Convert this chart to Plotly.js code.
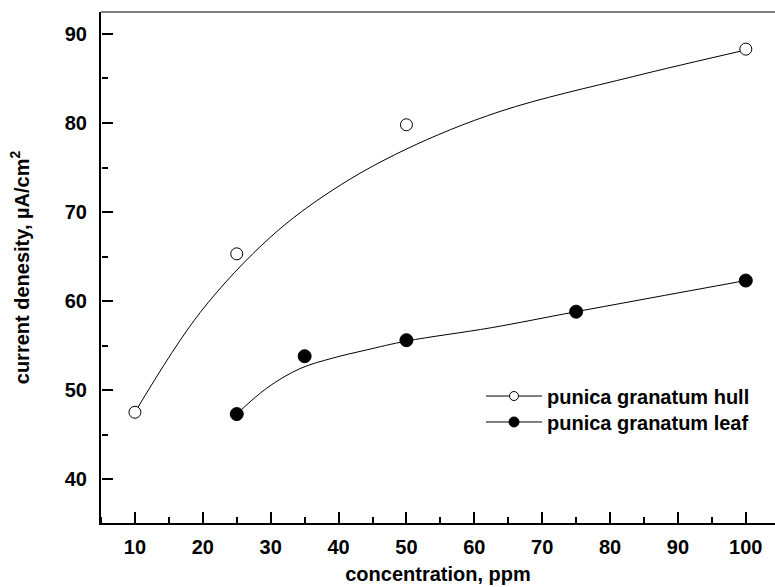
<!DOCTYPE html>
<html>
<head>
<meta charset="utf-8">
<script src="https://cdn.plot.ly/plotly-3.0.1.min.js"></script>
<style>
html,body{margin:0;padding:0;background:#fff;overflow:hidden;}
#chart{width:775px;height:587px;}
</style>
</head>
<body>
<div id="chart"></div>
<script>
// measured data points
const hullX = [10, 25, 50, 100];
const hullY = [47.5, 65.3, 79.8, 88.3];
const leafX = [25, 35, 50, 75, 100];
const leafY = [47.3, 53.8, 55.6, 58.8, 62.3];

// fitted curves
const hullFitX = [10, 19.6, 30, 39.2, 49.8, 63.8, 83.3, 100];
const hullFitY = [47.5, 58.7, 67.2, 72.5, 77.0, 81.3, 85.2, 88.2];
const leafFitX = [25, 29.4, 34.3, 39.2, 44.1, 50, 62.5, 75, 100];
const leafFitY = [47.3, 50.2, 52.4, 53.6, 54.5, 55.5, 57.0, 58.8, 62.3];

const seriesNames = ['punica granatum hull', 'punica granatum leaf'];
const xTitle = 'concentration, ppm';
const yTitle = 'current denesity, µA/cm<sup>2</sup>';

const FONT = 'Liberation Sans, Arial, Helvetica, sans-serif';
const BOLD = (size) => ({family: FONT, size: size, color: '#000', weight: 'bold'});

const xRange = [5, 104.3];
const yRange = [35.06, 92.47];

const traces = [
  {x: hullFitX, y: hullFitY, mode: 'lines', line: {color: '#000', width: 1, shape: 'spline'}, showlegend: false, hoverinfo: 'skip'},
  {x: leafFitX, y: leafFitY, mode: 'lines', line: {color: '#000', width: 1, shape: 'spline'}, showlegend: false, hoverinfo: 'skip'},
  {x: hullX, y: hullY, mode: 'markers', marker: {symbol: 'circle', size: 12, color: '#fff', line: {color: '#000', width: 1}}, showlegend: false},
  {x: leafX, y: leafY, mode: 'markers', marker: {symbol: 'circle', size: 13, color: '#000', line: {color: '#000', width: 1}}, showlegend: false},
  {x: [null], y: [null], name: seriesNames[0], legend: 'legend', mode: 'lines+markers', line: {color: '#000', width: 1}, marker: {symbol: 'circle', size: 9, color: '#fff', line: {color: '#000', width: 1}}},
  {x: [null], y: [null], name: seriesNames[1], legend: 'legend2', mode: 'lines+markers', line: {color: '#000', width: 1}, marker: {symbol: 'circle', size: 10, color: '#000', line: {color: '#000', width: 1}}},
  // carrier for the tick-only overlay axes
  {x: [null], y: [null], xaxis: 'x2', yaxis: 'y2', mode: 'markers', showlegend: false, hoverinfo: 'skip'}
];

const tickOverlay = {
  showgrid: false, zeroline: false, showline: false, showticklabels: false,
  ticks: 'outside', tick0: 0, dtick: 10, ticklen: 11, tickwidth: 2, tickcolor: '#000',
  minor: {ticks: 'outside', dtick: 5, ticklen: 6, tickwidth: 2, tickcolor: '#000', showgrid: false},
  anchor: 'free', position: 0, automargin: false
};

const layout = {
  width: 775, height: 587,
  margin: {l: 101, r: 0, t: 12, b: 64},
  paper_bgcolor: '#fff', plot_bgcolor: '#fff',
  font: BOLD(20),
  showlegend: true,
  legend: {x: 0.5638, xanchor: 'left', y: 0.2485, yanchor: 'middle', bgcolor: 'rgba(0,0,0,0)',
           itemwidth: 56, font: BOLD(20)},
  legend2: {x: 0.5638, xanchor: 'left', y: 0.1977, yanchor: 'middle', bgcolor: 'rgba(0,0,0,0)',
           itemwidth: 56, font: BOLD(20)},
  xaxis: {
    range: xRange, showgrid: false, zeroline: false,
    showline: true, linecolor: '#000', linewidth: 2,
    ticks: '', tick0: 0, dtick: 10,
    ticklabelstandoff: 5,
    tickfont: BOLD(20),
    title: {text: xTitle, font: BOLD(20), standoff: 10},
    automargin: false
  },
  yaxis: {
    range: yRange, showgrid: false, zeroline: false,
    showline: true, linecolor: '#000', linewidth: 2,
    ticks: '', tick0: 0, dtick: 10,
    ticklabelstandoff: 8,
    tickfont: BOLD(20),
    title: {text: yTitle, font: BOLD(20), standoff: 30},
    automargin: false
  },
  xaxis2: Object.assign({}, tickOverlay, {range: xRange, overlaying: 'x', side: 'top'}),
  yaxis2: Object.assign({}, tickOverlay, {range: yRange, overlaying: 'y', side: 'right'}),
  shapes: [
    {type: 'line', xref: 'paper', yref: 'paper', x0: 0, x1: 1, y0: 1, y1: 1, line: {color: '#000', width: 1}}
  ]
};

Plotly.newPlot('chart', traces, layout, {staticPlot: true, displayModeBar: false});
</script>
</body>
</html>
